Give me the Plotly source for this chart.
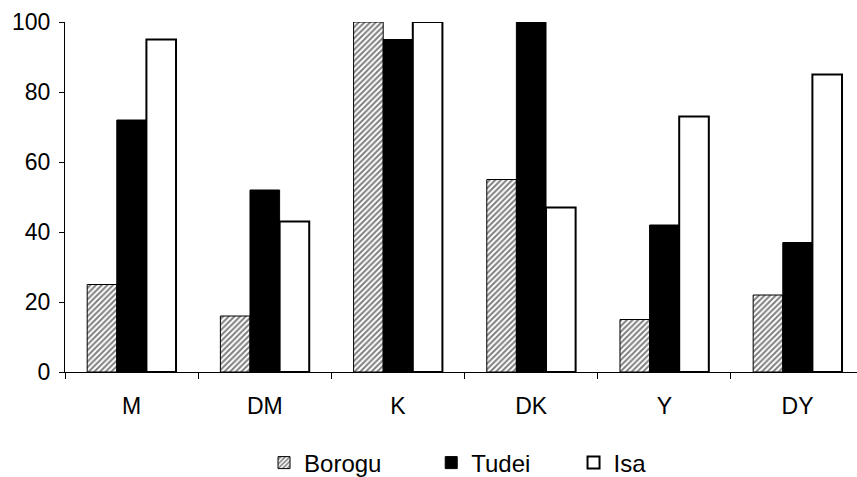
import plotly.graph_objects as go

# Kategorien und Werte
categories = ["M", "DM", "K", "DK", "Y", "DY"]
borogu = [25, 16, 100, 55, 15, 22]
tudei = [72, 52, 95, 100, 42, 37]
isa = [95, 43, 100, 47, 73, 85]
y_ticks = [0, 20, 40, 60, 80, 100]

FONT = "Liberation Sans, Arial, sans-serif"

fig = go.Figure()
fig.add_trace(go.Bar(
    x=categories, y=borogu, name="Borogu" + "\u00a0" * 6 + "\u2009",
    marker=dict(color="white", line=dict(color="black", width=1),
                pattern=dict(shape="/", fgcolor="black", bgcolor="white",
                             size=4, solidity=0.5)),
))
fig.add_trace(go.Bar(
    x=categories, y=tudei, name="Tudei" + "\u00a0" * 5 + "\u2009",
    marker=dict(color="black", line=dict(color="black", width=1)),
))
fig.add_trace(go.Bar(
    x=categories, y=isa, name="Isa",
    marker=dict(color="white", line=dict(color="black", width=2)),
))

fig.update_layout(
    width=857, height=477,
    margin=dict(l=65, r=0, t=22, b=105, autoexpand=False),
    paper_bgcolor="white", plot_bgcolor="white",
    font=dict(family=FONT, size=23, color="black"),
    barmode="group", bargap=0.333, bargroupgap=0,
    showlegend=True,
    legend=dict(orientation="h", x=0.2513, xanchor="left", y=-0.26, yanchor="middle",
                font=dict(size=24)),
)
fig.update_xaxes(
    range=[-0.5, 5.446], showline=True, linecolor="black", linewidth=1,
    ticks="outside", tickson="boundaries", ticklen=6, tickcolor="black",
    showgrid=False, zeroline=False, automargin=False, ticklabelstandoff=13,
)
fig.update_yaxes(
    range=[0, 100], tickvals=y_ticks, showline=True, linecolor="black", linewidth=1,
    ticks="outside", ticklen=5, tickcolor="black", showgrid=False, zeroline=False,
    ticklabelstandoff=4, automargin=False,
)

# Seitenrand des Browsers entfernen, keine Werkzeugleiste
fig.write_html("out.html", config={"displayModeBar": False},
               post_script="document.body.style.margin='0';")
